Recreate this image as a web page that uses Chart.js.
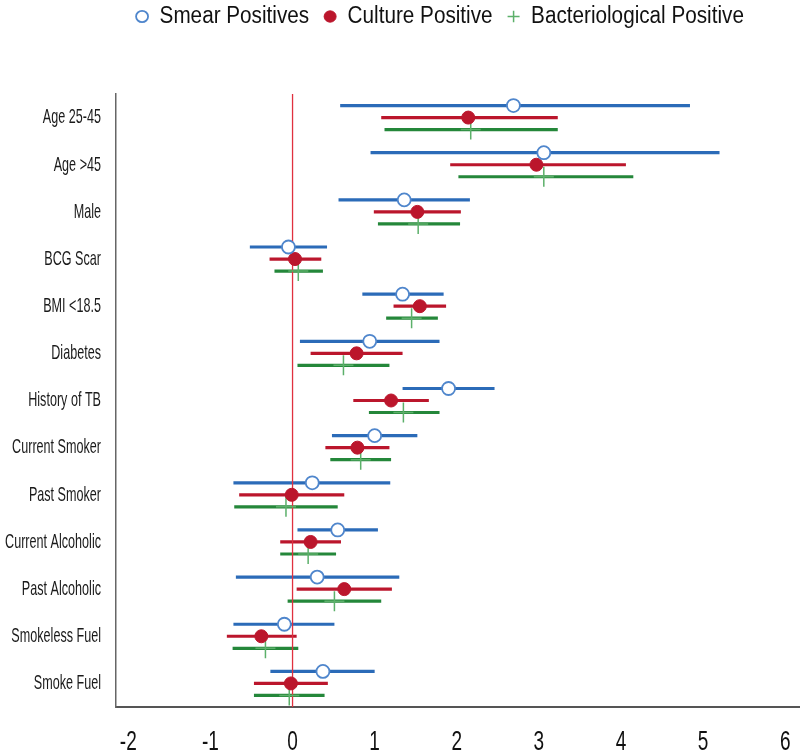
<!DOCTYPE html>
<html>
<head>
<meta charset="utf-8">
<script src="https://cdn.jsdelivr.net/npm/chart.js@4.4.1/dist/chart.umd.min.js"></script>
<style>
  html, body { margin: 0; padding: 0; background: #fff; }
  #wrap { width: 800px; height: 756px; position: relative; }
</style>
</head>
<body>
<div id="wrap"><canvas id="forest"></canvas></div>
<script>
const categories = ['Age 25-45', 'Age >45', 'Male', 'BCG Scar', 'BMI <18.5', 'Diabetes', 'History of TB',
  'Current Smoker', 'Past Smoker', 'Current Alcoholic', 'Past Alcoholic', 'Smokeless Fuel', 'Smoke Fuel']

const smearEst = [2.69, 3.06, 1.36, -0.05, 1.34, 0.94, 1.90, 1.00, 0.24, 0.55, 0.30, -0.10, 0.37]
const smearLow = [0.58, 0.95, 0.56, -0.52, 0.85, 0.09, 1.34, 0.48, -0.72, 0.06, -0.69, -0.72, -0.27]
const smearHigh = [4.84, 5.20, 2.16, 0.42, 1.84, 1.79, 2.46, 1.52, 1.19, 1.04, 1.30, 0.51, 1.00]

const cultureEst = [2.14, 2.97, 1.52, 0.03, 1.55, 0.78, 1.20, 0.79, -0.01, 0.22, 0.63, -0.38, -0.02]
const cultureLow = [1.08, 1.92, 0.99, -0.28, 1.23, 0.22, 0.74, 0.40, -0.65, -0.15, 0.05, -0.80, -0.47]
const cultureHigh = [3.23, 4.06, 2.05, 0.35, 1.87, 1.34, 1.66, 1.18, 0.63, 0.59, 1.21, 0.05, 0.43]

const bactEst = [2.17, 3.06, 1.53, 0.07, 1.45, 0.62, 1.35, 0.83, -0.08, 0.19, 0.51, -0.33, -0.04]
const bactLow = [1.12, 2.02, 1.04, -0.22, 1.14, 0.06, 0.93, 0.46, -0.71, -0.15, -0.06, -0.73, -0.47]
const bactHigh = [3.23, 4.15, 2.04, 0.37, 1.77, 1.18, 1.79, 1.20, 0.55, 0.53, 1.08, 0.07, 0.39]

const xTicks = [-2, -1, 0, 1, 2, 3, 4, 5, 6]

const FONT = '"Liberation Sans", Arial, sans-serif'
const BLUE = '#2b6bb8'
const RED = '#bb162c'
const GREEN = '#24873a'

// row offsets so the three estimates sit one above the other
const OFFSET = 0.255

const toPoints = (est, shift) => est.map((v, i) => ({ x: v, y: i + shift }))

const series = [
  { low: smearLow, high: smearHigh, shift: -OFFSET, color: BLUE },
  { low: cultureLow, high: cultureHigh, shift: 0, color: RED },
  { low: bactLow, high: bactHigh, shift: OFFSET, color: GREEN }
]

// horizontal confidence interval lines
const ciLines = {
  id: 'ciLines',
  beforeDatasetsDraw(chart) {
    const { ctx, scales: { x, y } } = chart
    ctx.save()
    ctx.lineWidth = 3.2
    ctx.lineCap = 'butt'
    series.forEach(s => {
      ctx.strokeStyle = s.color
      s.low.forEach((lo, i) => {
        const py = y.getPixelForValue(i + s.shift)
        ctx.beginPath()
        ctx.moveTo(x.getPixelForValue(lo), py)
        ctx.lineTo(x.getPixelForValue(s.high[i]), py)
        ctx.stroke()
      })
    })
    ctx.restore()
  }
}

// extra room under the legend, and nudge it right/up like the original
const legendGap = {
  id: 'legendGap',
  beforeInit(chart) {
    const fit = chart.legend.fit
    chart.legend.fit = function () {
      fit.bind(chart.legend)()
      this.height += 46
    }
  },
  afterLayout(chart) {
    const lg = chart.legend
    lg.left += 40
    lg.right += 40
    lg.top -= 10
    lg.bottom -= 10
  }
}

const ctx = document.getElementById('forest').getContext('2d')

// the original uses a tall, narrow face: squeeze text horizontally per font size
const SQUEEZE = { 23: 0.9, 21: 0.6, 28: 0.68 }
const squeezeOf = c => SQUEEZE[parseFloat((c.font.match(/([\d.]+)px/) || [])[1])] || 1
const rawMeasure = ctx.measureText
const rawFill = ctx.fillText
ctx.measureText = function (t) {
  const m = rawMeasure.call(this, t)
  return {
    width: m.width * squeezeOf(this),
    actualBoundingBoxAscent: m.actualBoundingBoxAscent,
    actualBoundingBoxDescent: m.actualBoundingBoxDescent
  }
}
ctx.fillText = function (t, x, y, maxW) {
  const w = rawMeasure.call(this, t).width * squeezeOf(this)
  return rawFill.call(this, t, x, y, maxW !== undefined ? Math.min(maxW, w) : w)
}

new Chart(ctx, {
  type: 'scatter',
  data: {
    datasets: [
      {
        label: 'Smear Positives',
        data: toPoints(smearEst, -OFFSET),
        pointStyle: 'circle',
        pointRadius: 6.5,
        backgroundColor: '#ffffff',
        borderColor: '#4f86cc',
        borderWidth: 1.8
      },
      {
        label: 'Culture Positive',
        data: toPoints(cultureEst, 0),
        pointStyle: 'circle',
        pointRadius: 6.5,
        backgroundColor: RED,
        borderColor: RED,
        borderWidth: 1
      },
      {
        label: 'Bacteriological Positive',
        data: toPoints(bactEst, OFFSET),
        pointStyle: 'cross',
        pointRadius: 10,
        backgroundColor: '#5cb06a',
        borderColor: '#5cb06a',
        borderWidth: 1.5
      },
      {
        label: 'zero',
        type: 'line',
        data: [{ x: 0, y: -0.5 }, { x: 0, y: 12.5 }],
        borderColor: '#e0303f',
        borderWidth: 1.3,
        pointRadius: 0
      }
    ]
  },
  options: {
    responsive: true,
    maintainAspectRatio: false,
    animation: false,
    layout: { padding: 0, autoPadding: false },
    scales: {
      x: {
        type: 'linear',
        min: -2.15,
        max: 6.18,
        afterBuildTicks: scale => {
          scale.ticks = xTicks.map(v => ({ value: v }))
        },
        afterFit: scale => {
          scale.height = 49
          scale.paddingLeft = 0
          scale.paddingRight = 0
        },
        ticks: {
          color: '#111',
          padding: 18,
          font: { family: FONT, size: 28 }
        },
        grid: { display: false, drawTicks: false },
        border: { display: true, color: '#555', width: 2 }
      },
      y: {
        type: 'linear',
        reverse: true,
        min: -0.5,
        max: 12.5,
        afterBuildTicks: scale => {
          scale.ticks = categories.map((c, i) => ({ value: i }))
        },
        afterFit: scale => {
          scale.width = 116
          scale.paddingTop = 0
          scale.paddingBottom = 0
        },
        ticks: {
          color: '#1a1a1a',
          padding: 15,
          autoSkip: false,
          font: { family: FONT, size: 21 },
          callback: v => categories[v]
        },
        grid: { display: false, drawTicks: false },
        border: { display: true, color: '#666', width: 1.5 }
      }
    },
    plugins: {
      legend: {
        position: 'top',
        labels: {
          usePointStyle: true,
          boxHeight: 8,
          pointStyleWidth: 12,
          padding: 15,
          color: '#111',
          font: { family: FONT, size: 23 },
          filter: item => item.text !== 'zero'
        }
      },
      tooltip: { enabled: false }
    }
  },
  plugins: [ciLines, legendGap]
})
</script>
</body>
</html>
